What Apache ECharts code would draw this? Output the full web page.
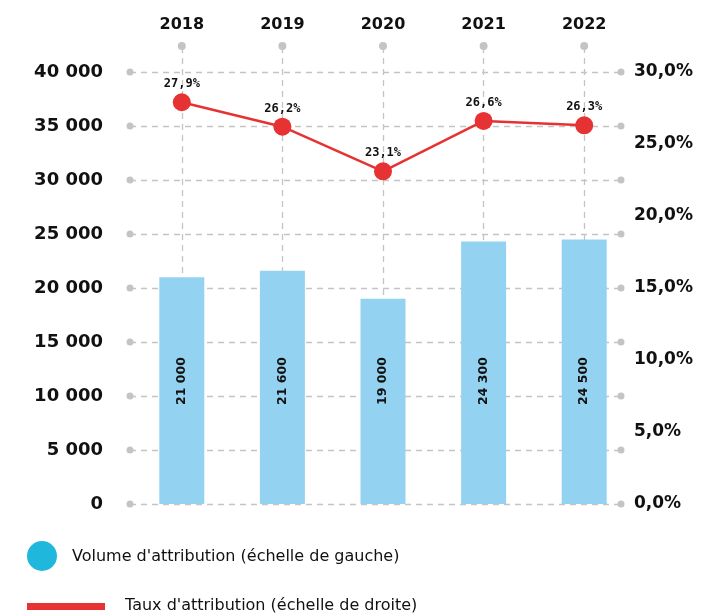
<!DOCTYPE html>
<html><head><meta charset="utf-8">
<script src="https://cdn.jsdelivr.net/npm/echarts@6/dist/echarts.min.js"></script>
<style>html,body{margin:0;padding:0;background:#fff}#c{width:707px;height:613px}</style>
</head><body><div id="c"></div>
<script>
var years = ['2018','2019','2020','2021','2022'];
var volume = [21000, 21600, 19000, 24300, 24500];
var taux = [27.9, 26.2, 23.1, 26.6, 26.3];
var leftTicks = [0, 5000, 10000, 15000, 20000, 25000, 30000, 35000, 40000];
var rightTicks = [0, 5, 10, 15, 20, 25, 30];
var legendLabels = ["Volume d'attribution (échelle de gauche)", "Taux d'attribution (échelle de droite)"];

var FONT = '"DejaVu Sans", "Liberation Sans", sans-serif';
var GRIDC = '#c4c4c4';
function fmtThousands(v){ return String(v).replace(/\B(?=(\d{3})+(?!\d))/g, ' '); }
function fmtPct(v){ return v.toFixed(1).replace('.', ',') + '%'; }

var chart = echarts.init(document.getElementById('c'), null, {renderer:'canvas'});
var option = {
  animation: false,
  grid: [
    {left: 130, right: 86, top: 72, bottom: 109},
    {left: 131.5, right: 72.5, top: 72, bottom: 109},
    {left: 131.5, right: 72.5, top: 46, bottom: 109}
  ],
  xAxis: [
    {gridIndex: 0, type: 'value', min: 0, max: 1, show: false},
    {gridIndex: 1, type: 'category', data: years, show: false},
    {gridIndex: 2, type: 'category', data: years, position: 'top',
     axisLine: {show: false}, axisTick: {show: false}, splitLine: {show: false},
     axisLabel: {margin: 13, color: '#111', fontFamily: FONT, fontWeight: 'bold', fontSize: 16}}
  ],
  yAxis: [
    {gridIndex: 0, type: 'value', min: 0, max: 40000, interval: 5000, position: 'left',
     axisLine: {show: false}, axisTick: {show: false}, splitLine: {show: false},
     axisLabel: {margin: 27, color: '#111', fontFamily: FONT, fontWeight: 'bold', fontSize: 18, formatter: fmtThousands}},
    {gridIndex: 0, type: 'value', min: 0, max: 30, interval: 5, position: 'right',
     axisLine: {show: false}, axisTick: {show: false}, splitLine: {show: false},
     axisLabel: {margin: 13, color: '#111', fontFamily: FONT, fontWeight: 'bold', fontSize: 17, formatter: fmtPct}},
    {gridIndex: 1, type: 'value', min: 0, max: 40000, show: false},
    {gridIndex: 1, type: 'value', min: 0, max: 30, show: false},
    {gridIndex: 2, type: 'value', min: 0, max: 1, show: false}
  ],
  series: [
    {type: 'line', xAxisIndex: 0, yAxisIndex: 0, data: [], silent: true, z: 1,
     markLine: {silent: true, z: 1, symbol: ['circle','circle'], symbolSize: 7, animation: false,
       label: {show: false},
       lineStyle: {color: GRIDC, type: [6, 5], width: 1.3},
       itemStyle: {color: '#b3b3b3'},
       emphasis: {disabled: true},
       data: leftTicks.map(function(t){ return {yAxis: t}; })}},
    {type: 'line', xAxisIndex: 2, yAxisIndex: 4, data: [], silent: true, z: 1,
     markLine: {silent: true, z: 1, symbol: ['none','circle'], symbolSize: 8, animation: false,
       label: {show: false},
       lineStyle: {color: GRIDC, type: [6, 5], width: 1.3},
       itemStyle: {color: '#b3b3b3'},
       emphasis: {disabled: true},
       data: years.map(function(y){ return {xAxis: y}; })}},
    {type: 'bar', name: legendLabels[0], xAxisIndex: 1, yAxisIndex: 2, data: volume, barWidth: 45, z: 3,
     itemStyle: {color: '#93d3f1'},
     label: {show: true, position: 'insideBottom', distance: 99, rotate: 90, align: 'left', verticalAlign: 'middle',
       color: '#111', fontFamily: FONT, fontWeight: 'bold', fontSize: 12.5,
       formatter: function(p){ return fmtThousands(p.value); }}},
    {type: 'line', name: legendLabels[1], xAxisIndex: 1, yAxisIndex: 3, data: taux, z: 5,
     symbol: 'circle', symbolSize: 18,
     lineStyle: {color: '#e63232', width: 2.5}, itemStyle: {color: '#e63232'},
     label: {show: true, position: 'top', distance: 3, color: '#111',
       fontFamily: '"DejaVu Sans Mono", monospace', fontWeight: 'bold', fontSize: 12,
       formatter: function(p){ return fmtPct(p.value); }}}
  ],
  graphic: [
    {type: 'circle', shape: {cx: 42, cy: 556, r: 15}, style: {fill: '#1fb8dc'}},
    {type: 'text', x: 72, y: 557, style: {text: legendLabels[0], fill: '#111', font: '16px ' + FONT, textVerticalAlign: 'middle'}},
    {type: 'rect', shape: {x: 27, y: 603, width: 78, height: 7}, style: {fill: '#e63232'}},
    {type: 'text', x: 125, y: 606, style: {text: legendLabels[1], fill: '#111', font: '16px ' + FONT, textVerticalAlign: 'middle'}}
  ]
};
chart.setOption(option);
</script></body></html>
